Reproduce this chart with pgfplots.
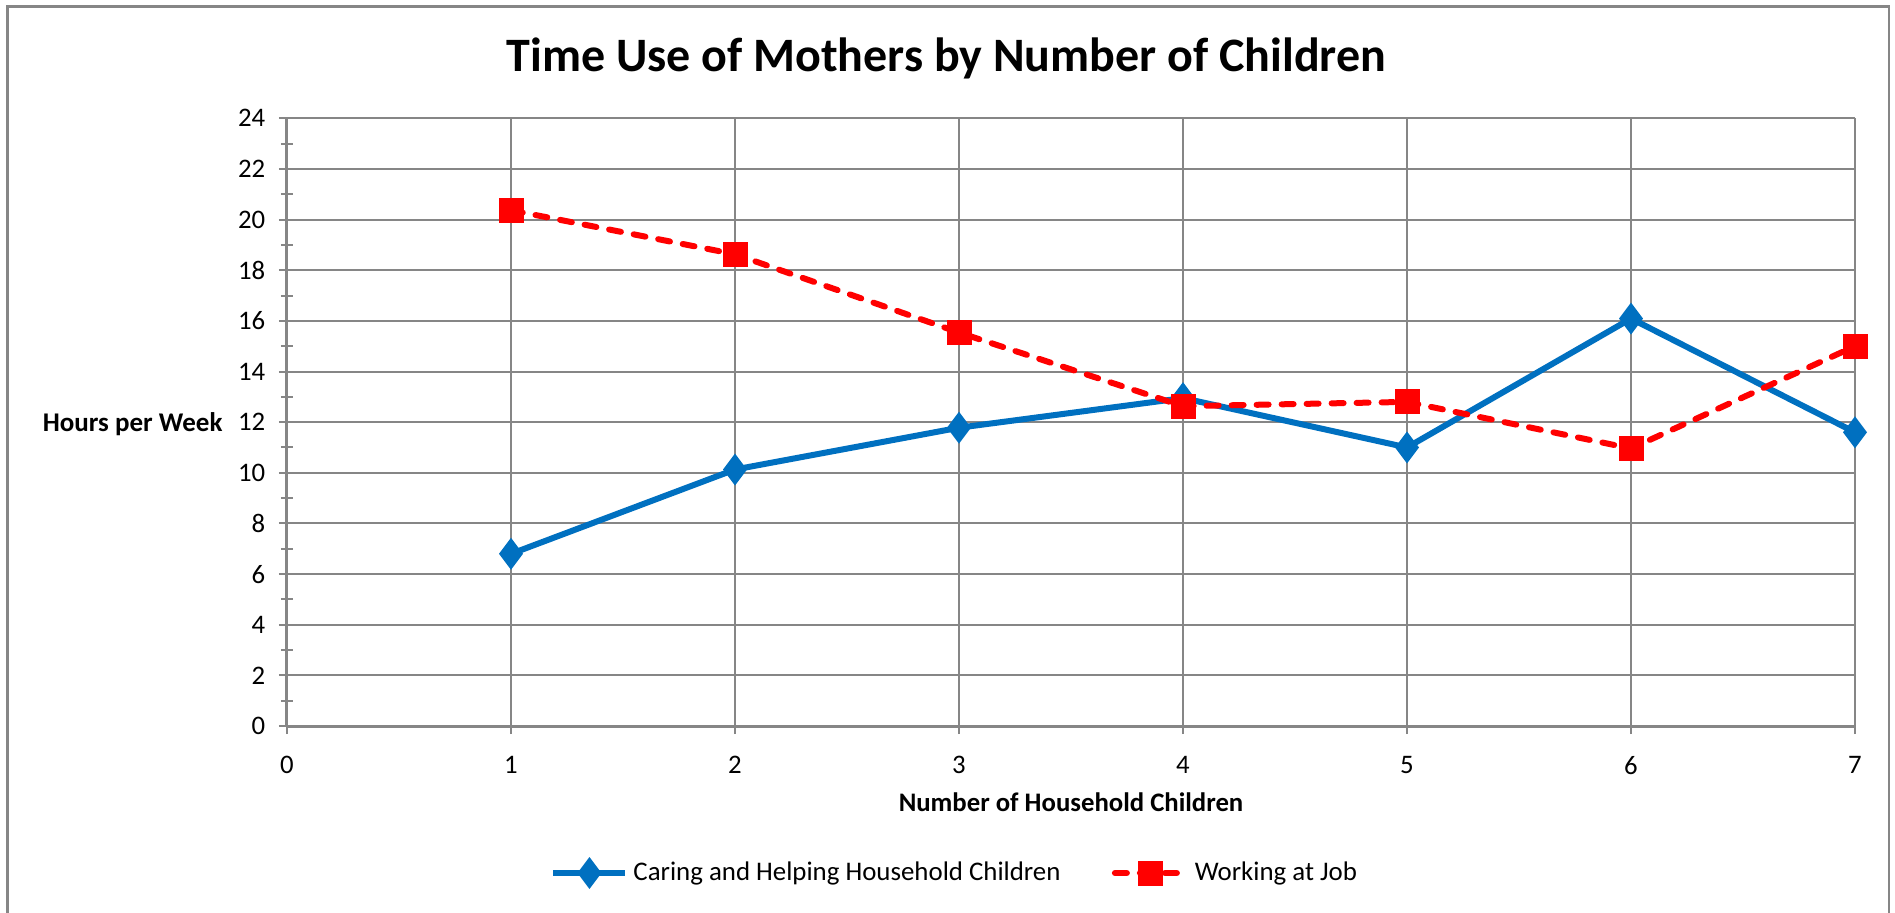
\documentclass[border=0pt]{standalone}
\usepackage{pgfplots}
\pgfplotsset{compat=1.18}
\usepackage{fontspec}
\setmainfont{Carlito}
\definecolor{gridgray}{HTML}{868686}
\definecolor{xblue}{HTML}{0070C0}
\definecolor{xred}{HTML}{FF0000}
\begin{document}
\begin{tikzpicture}
\useasboundingbox (0,0) rectangle (758pt,364.8pt);
\draw[gridgray, line width=0.9pt] (3pt,-10pt) -- (3pt,362.2pt) -- (755.6pt,362.2pt) -- (755.6pt,-10pt);
\begin{axis}[
  at={(114.8pt,74.4pt)}, anchor=south west,
  scale only axis, width=627.2pt, height=243.08pt,
  xmin=0, xmax=7, ymin=0, ymax=24,
  xtick={0,1,...,7}, ytick={0,2,...,24}, minor y tick num=1,
  grid=major, major grid style={gridgray, line width=0.8pt},
  axis x line*=bottom, axis y line*=left,
  axis line style={gridgray, line width=1.2pt, -},
  tick style={gridgray, line width=0.8pt},
  tick align=center, major tick length=6.4pt, minor tick length=4.8pt,
  ticklabel style={font=\fontsize{10.7}{12}\selectfont, text=black},
  xticklabel style={yshift=-5.3pt},
  yticklabel style={xshift=-2pt},
  /pgf/number format/assume math mode=true,
  clip=false,
  title={Time Use of Mothers by Number of Children},
  title style={at={(0.4206,1.0527)}, anchor=base, font=\fontsize{19.2}{23}\selectfont\bfseries, inner sep=0pt},
  xlabel={Number of Household Children},
  xlabel style={at={(0.5,-0.1411)}, anchor=base, font=\fontsize{10.7}{12}\selectfont\bfseries, inner sep=0pt},
  ylabel={Hours per Week},
  ylabel style={at={(-0.04082,0.4842)}, anchor=base east, rotate=-90, font=\fontsize{10.8}{12}\selectfont\bfseries, inner sep=0pt},
  legend columns=2,
  legend style={draw=none, fill=none, at={(0.4268,-0.2419)}, anchor=center,
    font=\fontsize{10.75}{12}\selectfont,
    /tikz/every even column/.append style={column sep=18.5pt}},
  legend image code/.code={\draw[mark repeat=2,mark phase=2,#1] plot coordinates {(0pt,0pt)(14.4pt,0pt)(28.8pt,0pt)};},
]
\addplot[xblue, line width=2.4pt, mark=diamond*, mark size=4.4pt, mark options={solid}] coordinates {
  (1,6.8) (2,10.13) (3,11.78) (4,12.95) (5,11.0) (6,16.09) (7,11.6)
};
\addlegendentry{Caring and Helping Household Children}
\addplot[xred, line width=2.4pt, line cap=round, dash pattern=on 4.8pt off 5.2pt, mark=square*, mark size=3.8pt, mark options={solid}] coordinates {
  (1,20.37) (2,18.63) (3,15.54) (4,12.63) (5,12.8) (6,10.96) (7,15.0)
};
\addlegendentry{Working at Job}
\end{axis}
\end{tikzpicture}
\end{document}
